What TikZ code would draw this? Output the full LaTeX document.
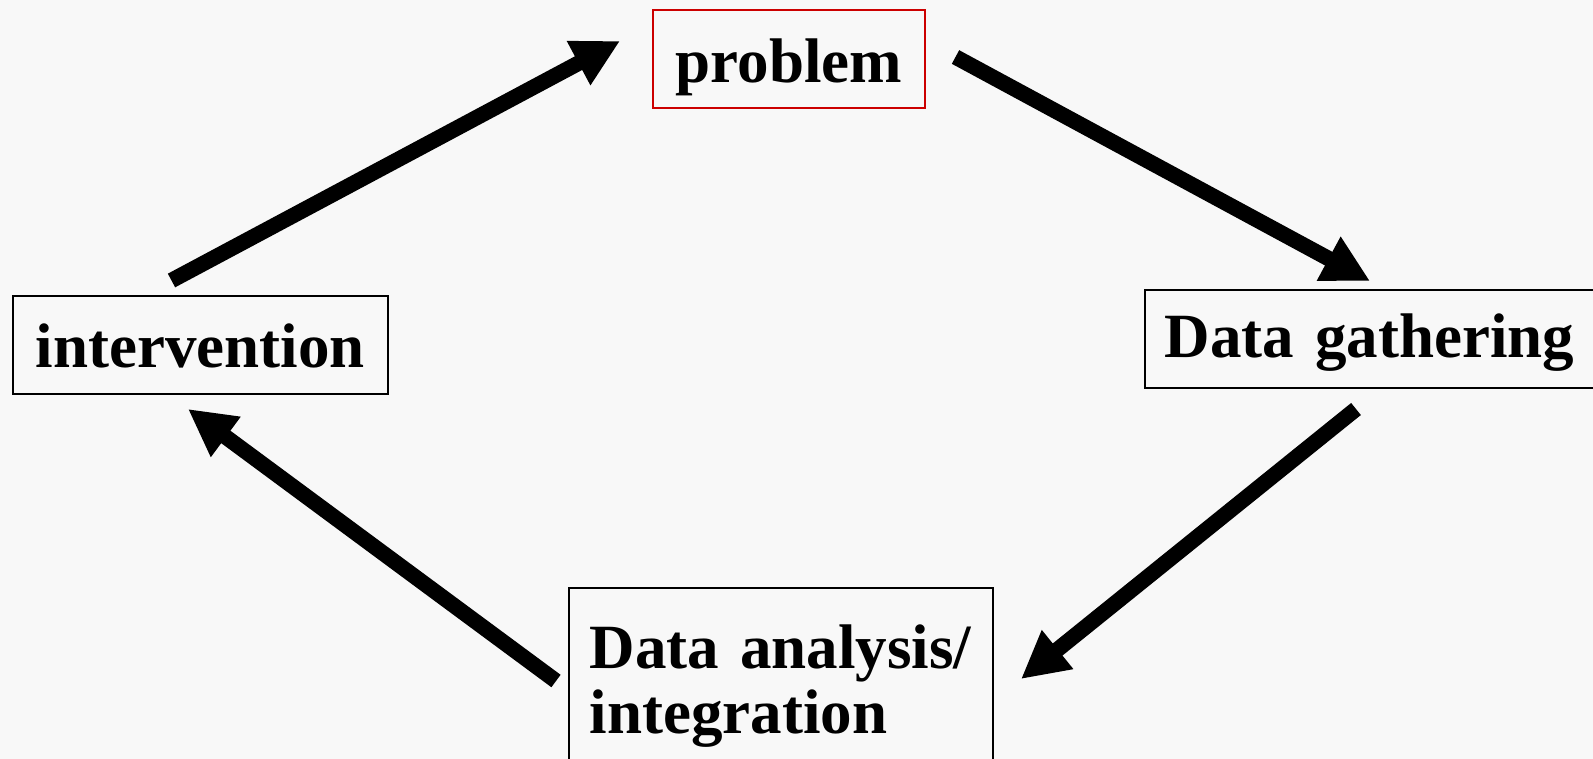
\documentclass[tikz,border=0pt]{standalone}
\usepackage{fontspec}
\setmainfont{Liberation Serif}
\usetikzlibrary{arrows.meta}
\definecolor{bgcol}{RGB}{248,248,248}
\definecolor{boxred}{RGB}{204,0,0}
\tikzset{
  lbl/.style={font=\fontsize{31.5}{32.5}\selectfont\bfseries, inner ysep=0pt, line width=0.8pt},
  flow/.style={line width=7.75pt, line cap=butt, -{Triangle[length=23.5pt,width=23.5pt]}}
}
\begin{document}
\begin{tikzpicture}[x=0.5pt,y=-0.5pt]
\useasboundingbox (0,0) rectangle (1593,759);
\fill[bgcol] (0,0) rectangle (1593,759);
\clip (0,0) rectangle (1593,759);
% boxes
\node[lbl, draw=boxred, anchor=north west, minimum width=136pt, inner xsep=0pt,
      text height=36.5pt, text depth=12.5pt] (prob) at (652,9) {problem};
\node[lbl, draw=black, anchor=north west, minimum width=187.5pt, inner xsep=0pt,
      text height=35.85pt, text depth=13.15pt] (interv) at (12,295) {intervention};
\node[lbl, draw=black, anchor=north west, inner xsep=10pt, text width=220pt, align=left,
      text height=33.85pt, text depth=15.15pt] (gath) at (1144,289) {Data gathering};
\node[lbl, draw=black, anchor=north west, inner xsep=10.5pt, text width=191pt, align=left,
      text height=40.5pt, text depth=100pt] (anal) at (568,587) {Data analysis/\\integration};
% arrow ends
\coordinate (a1s) at (171.5,280.5); \coordinate (a1e) at (620,41);
\coordinate (a2s) at (955.5,57);    \coordinate (a2e) at (1370,281);
\coordinate (a3s) at (1356,409);    \coordinate (a3e) at (1021,679);
\coordinate (a4s) at (556,681);     \coordinate (a4e) at (188,409);
\draw[flow] (a1s) -- (a1e);
\draw[flow] (a2s) -- (a2e);
\draw[flow] (a3s) -- (a3e);
\draw[flow] (a4s) -- (a4e);
\end{tikzpicture}
\end{document}
